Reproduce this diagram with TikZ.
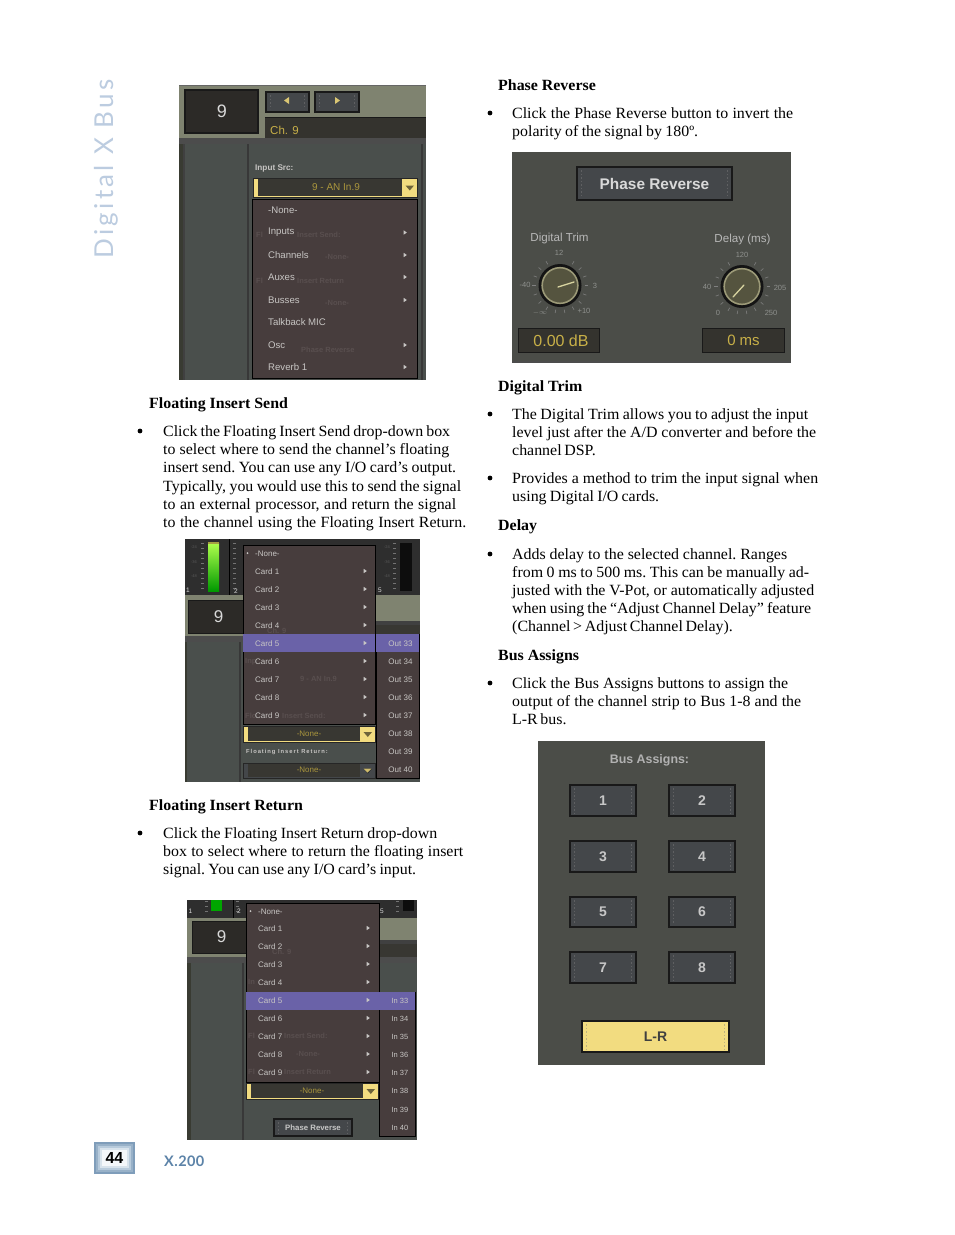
\documentclass[tikz,border=0pt]{standalone}
\usepackage{fontspec}
\setmainfont[FakeStretch=1.02]{Liberation Serif}
\newfontfamily\uif{Liberation Sans}
\newfontfamily\sidef[LetterSpace=12.5]{Lato}
\newfontfamily\modelf[LetterSpace=3]{Lato}
\usetikzlibrary{calc}
\definecolor{olive}{HTML}{7F8370}
\definecolor{dk}{HTML}{2C2A27}
\definecolor{pan}{HTML}{4A4F4C}
\definecolor{mnu}{HTML}{473D3D}
\definecolor{pur}{HTML}{6A62A8}
\definecolor{yel}{HTML}{F2DC80}
\definecolor{gry}{HTML}{4B4D48}
\definecolor{btnf}{HTML}{44474A}
\definecolor{mtxt}{HTML}{C8C6C4}
\definecolor{gho}{HTML}{594F4F}
\definecolor{sideb}{HTML}{BCCCE0}
\definecolor{xblue}{HTML}{5C83A8}
\definecolor{amber}{HTML}{C8B048}
\definecolor{knobf}{HTML}{55543F}
\definecolor{knobr}{HTML}{9C9A78}
\definecolor{knobp}{HTML}{D8D4A0}
\newcounter{nid}
\tikzset{
  x=1pt,y=-1pt,
  body/.style={anchor=base west,inner sep=0pt,font=\fontsize{15.6}{18}\selectfont,text=black},
  head/.style={anchor=base west,inner sep=0pt,font=\fontsize{15.6}{18}\bfseries\selectfont,text=black},
  ui/.style={inner sep=0pt,text=mtxt,font=\uif\fontsize{8.6}{9}\selectfont},
  uil/.style={ui,anchor=west},
  ghost/.style={inner sep=0pt,anchor=west,text=gho,font=\uif\fontsize{7.5}{9}\bfseries\selectfont},
  btnl/.style={inner sep=0pt,text=white!78!black,font=\uif\bfseries\fontsize{14}{15}\selectfont},
  item/.style={uil,yshift=-0.6pt,font=\uif\fontsize{8}{9}\selectfont},
  big/.style={uil,font=\uif\fontsize{9.6}{10}\selectfont},
}
% text line: x, baseline y, right end x, text
\newcommand\tl[4]{\stepcounter{nid}\node[body] (n\arabic{nid}) at (#1,#2) {\frenchspacing\hbox to \dimexpr #3pt-#1pt\relax{#4}};}
\newcommand\hd[3]{\stepcounter{nid}\node[head] (n\arabic{nid}) at (#1,#2) {#3};}
\newcommand\bu[2]{\fill[black] (#1,#2) circle (2.4);}
\newcommand\ut[3]{\stepcounter{nid}\node[big] (n\arabic{nid}) at (#1,#2) {#3};}
\newcommand\gtx[3]{\stepcounter{nid}\node[ghost] (n\arabic{nid}) at (#1,#2) {#3};}
\newcommand\arw[2]{\fill[mtxt] (#1-1.3,#2-2.2) -- (#1+1.8,#2) -- (#1-1.3,#2+2.2) -- cycle;}
% button: x1 y1 x2 y2 fill label-style label
\newcommand\btn[7]{%
  \fill[#5] (#1,#2) rectangle (#3,#4);
  \draw[black!90,line width=1.5] (#1,#2) rectangle (#3,#4);
  \draw[#5!55!gray,line width=.7,dash pattern=on 1.5pt off 2pt] (#1+4.5,#2+3) -- (#1+4.5,#4-3);
  \draw[#5!55!gray,line width=.7,dash pattern=on 1.5pt off 2pt] (#3-4.5,#2+3) -- (#3-4.5,#4-3);
  \stepcounter{nid}\node[btnl,#6] (n\arabic{nid}) at ({(#1+#3)/2},{(#2+#4)/2}) {#7};}
% dropdown: x1 y1 x2 y2 cap colour
\newcommand\drop[5]{%
  \fill[#5] (#1,#2) rectangle (#3,#4);
  \draw[black!85,line width=.8] (#1,#2) rectangle (#3,#4);
  \fill[dk!85!olive] (#1+5,#2+1.3) rectangle (#3-15.5,#4-1.3);
  \fill[#5!45!black] (#3-11.5,{(#2+#4)/2-2}) -- (#3-3,{(#2+#4)/2-2}) -- (#3-7.2,{(#2+#4)/2+3}) -- cycle;}
% meter ticks: x ytop ybottom
\newcommand\mtick[3]{\pgfmathtruncatemacro\ytwo{#2+5}\foreach \yy in {#2,\ytwo,...,#3} \draw[black!55,line width=.4] (#1,\yy) -- (#1+3,\yy);}
% knob: cx cy pointer
\newcommand\knob[3]{%
  \foreach \ang in {-60,-40,...,240} \draw[white!50!black,line width=.6] ($(#1,#2)+(\ang:24.5)$) -- ($(#1,#2)+(\ang:28)$);
  \fill[black!92] (#1,#2) circle (21.5);
  \fill[knobf] (#1,#2) circle (18.6);
  \draw[knobr,line width=1.5] (#1,#2) circle (17.8);
  \draw[knobp,line width=1.3,line cap=round] #3;}
\begin{document}
\begin{tikzpicture}
\path[use as bounding box,fill=white] (0,0) rectangle (954,1235);

% ---- side label and folio
\node[rotate=90,anchor=base west,inner sep=0pt,text=sideb,font=\sidef\fontsize{26}{27}\selectfont] (side) at (113.5,258.5) {Digital X Bus};
\foreach \ii/\cc in {0/7F9DBA,2/98B1C8,4/B8CBDC,6/D8E3EC,8/F4F7FA}{
  \definecolor{tmpc}{HTML}{\cc}
  \fill[tmpc] (94+\ii,1142+\ii) rectangle (135-\ii,1174-\ii);}
\node[inner sep=0pt,font=\uif\bfseries\fontsize{16}{17}\selectfont] (folio) at (114.5,1157.5) {44};
\node[anchor=base west,inner sep=0pt,text=xblue,font=\modelf\bfseries\fontsize{14.5}{15}\selectfont] (model) at (164,1166) {X.200};

% ---- left column text
\hd{149}{408}{Floating Insert Send}
\bu{140}{431}
\tl{163}{436.5}{450}{Click the Floating Insert Send drop-down box}
\tl{163}{454.5}{449}{to select where to send the channel’s floating}
\tl{163}{472.5}{456}{insert send. You can use any I/O card’s output.}
\tl{163}{491}{461}{Typically, you would use this to send the signal}
\tl{163}{509}{456}{to an external processor, and return the signal}
\tl{163}{527.5}{466}{to the channel using the Floating Insert Return.}
\hd{149}{810}{Floating Insert Return}
\bu{140}{833}
\tl{163}{838}{437}{Click the Floating Insert Return drop-down}
\tl{163}{856}{463}{box to select where to return the floating insert}
\tl{163}{874}{416}{signal. You can use any I/O card’s input.}

% ---- right column text
\hd{498}{90}{Phase Reverse}
\bu{490}{113}
\tl{512}{118}{793}{Click the Phase Reverse button to invert the}
\tl{512}{136}{698}{polarity of the signal by 180º.}
\hd{498}{391}{Digital Trim}
\bu{490}{414}
\tl{512}{419}{808}{The Digital Trim allows you to adjust the input}
\tl{512}{437}{816}{level just after the A/D converter and before the}
\tl{512}{455}{595}{channel DSP.}
\bu{490}{478}
\tl{512}{483}{818}{Provides a method to trim the input signal when}
\tl{512}{501}{659}{using Digital I/O cards.}
\hd{498}{530}{Delay}
\bu{490}{554}
\tl{512}{559}{787}{Adds delay to the selected channel. Ranges}
\tl{512}{577}{809}{from 0 ms to 500 ms. This can be manually ad-}
\tl{512}{595}{814}{justed with the V-Pot, or automatically adjusted}
\tl{512}{613}{811}{when using the “Adjust Channel Delay” feature}
\tl{512}{631}{732}{(Channel > Adjust Channel Delay).}
\hd{498}{660}{Bus Assigns}
\bu{490}{683}
\tl{512}{688}{788}{Click the Bus Assigns buttons to assign the}
\tl{512}{706}{801}{output of the channel strip to Bus 1-8 and the}
\tl{512}{724}{565}{L-R bus.}

% ---- screenshot 1
\fill[olive] (179,85) rectangle (426,143);
\draw[black!60,line width=1] (179,85.5) -- (426,85.5);
\fill[dk] (185,90) rectangle (258,133);
\draw[black!90,line width=1.2] (185,90) rectangle (258,133);
\node[ui,text=white!85!black,font=\uif\fontsize{18}{18}\selectfont] (a9) at (222,111) {9};
\btn{266}{92}{309}{112}{btnf}{}{}
\btn{315}{92}{359}{112}{btnf}{}{}
\fill[yel!90!black] (289,97) -- (289,104) -- (284,100.5) -- cycle;
\fill[yel!90!black] (335,97) -- (335,104) -- (340,100.5) -- cycle;
\fill[dk!90!olive] (265,117) rectangle (426,138);
\draw[black!90,line width=1] (265,117) -- (426,117);
\node[uil,text=amber,font=\uif\fontsize{11.5}{12}\selectfont] (ach) at (270,130) {Ch. 9};
\fill[black!70] (179,138) rectangle (426,144);
\fill[pan] (179,144) rectangle (426,380);
\fill[black!75] (179,144) rectangle (185,380);
\fill[olive!45!black] (179,144) rectangle (183,380);
\fill[black!78] (247,144) rectangle (249,380);
\fill[black!78] (421,144) rectangle (423,380);
\node[uil,text=mtxt,font=\uif\bfseries\fontsize{8.2}{9}\selectfont] (asrc) at (255,168) {Input Src:};
\drop{253}{178}{417}{197}{yel}
\node[ui,text=amber!85!black,font=\uif\fontsize{10}{10}\selectfont] (anin) at (336,187.5) {9 - AN In.9};
\fill[mnu] (252,199) rectangle (417,378);
\draw[black,line width=.8] (252,199) rectangle (417,378);
\gtx{256}{235}{Fl}
\gtx{297}{235}{Insert Send:}
\gtx{325}{257}{-None-}
\gtx{256}{281}{Fl}
\gtx{297}{281}{Insert Return}
\gtx{325}{303}{-None-}
\gtx{301}{349.5}{Phase Reverse}
\ut{268}{210}{-None-}
\ut{268}{232.5}{Inputs}\arw{405}{232.5}
\ut{268}{255}{Channels}\arw{405}{255}
\ut{268}{277}{Auxes}\arw{405}{277}
\ut{268}{300}{Busses}\arw{405}{300}
\ut{268}{322}{Talkback MIC}
\ut{268}{345}{Osc}\arw{405}{345}
\ut{268}{367}{Reverb 1}\arw{405}{367}

% ---- screenshot 2
\fill[pan] (185,539) rectangle (420,782);
\fill[black!82] (185,539) rectangle (420,595);
\fill[olive] (185,595) rectangle (420,642);
\mtick{201}{543}{591}
\shade[top color=green!45!yellow!70!white,bottom color=green!60!black] (208,543) rectangle (219,591);
\fill[yellow!60!black] (208,542) rectangle (219,543.5);
\mtick{233}{543}{591}
\draw[black,line width=.8] (229,539) -- (229,595);
\mtick{393}{543}{591}
\fill[black!95] (400,543) rectangle (412,591);
\foreach \nm/\xx/\yy/\lbl in {bs1/194/547/-24,bs2/194/562/-36,bs3/194/576/-48,bs4/387/547/-24,bs5/387/562/-36,bs6/387/576/-48}{
  \node[ui,text=white!35!black,font=\uif\fontsize{4}{4}\selectfont] (\nm) at (\xx,\yy) {\lbl};}
\node[ui,text=white!85!black,font=\uif\fontsize{6.5}{7}\selectfont] (b1) at (188,590) {1};
\node[ui,text=white!85!black,font=\uif\fontsize{6.5}{7}\selectfont] (b2) at (236,591) {2};
\node[ui,text=white!85!black,font=\uif\fontsize{6.5}{7}\selectfont] (b5) at (380,590) {5};
\fill[dk] (188,600) rectangle (245,633);
\draw[black!90,line width=1] (188,600) rectangle (245,633);
\node[ui,text=white!85!black,font=\uif\fontsize{17}{18}\selectfont] (b9) at (218.5,617) {9};
\fill[black!75] (376,621) rectangle (420,625);
\fill[dk!85!olive] (376,625) rectangle (420,634);
\fill[black!70] (185,636) rectangle (420,642);
\fill[olive!45!black] (185,642) rectangle (187,782);
\fill[black!78] (239,642) rectangle (241,782);
\fill[mnu] (243,545) rectangle (375,724);
\draw[black,line width=.8] (243,545) rectangle (375,724);
\fill[pur] (243,634) rectangle (375,652);
\gtx{267}{631}{Ch. 9}
\gtx{245}{661.5}{Inp}
\gtx{300}{679}{9 - AN In.9}
\gtx{245}{715.5}{Flo}
\gtx{282}{715.5}{Insert Send:}
\fill[mtxt] (247.5,553) circle (1);
\node[item] (bnone) at (255,553) {-None-};
\foreach \cc/\yy in {1/571,2/589,3/607,4/625,5/643,6/661,7/679,8/697,9/715}{
  \node[item] (bc\cc) at (255,\yy) {Card \cc};
  \arw{365}{\yy}}
\drop{243}{726}{375}{742}{yel}
\node[ui,text=amber!85!black,font=\uif\fontsize{8}{9}\selectfont] (bn1) at (309,733.5) {-None-};
\node[uil,font=\uif\bfseries\fontsize{5.8}{6}\selectfont,text=mtxt] (bfr) at (246,752) {F\,l\,o\,a\,t\,i\,n\,g\, I\,n\,s\,e\,r\,t\, R\,e\,t\,u\,r\,n\,:};
\drop{243}{763}{375}{778}{btnf}
\node[ui,text=amber!85!black,font=\uif\fontsize{8}{9}\selectfont] (bn2) at (309,770) {-None-};
\fill[yel!85!black] (363.5,768.5) -- (371.5,768.5) -- (367.5,772.5) -- cycle;
\fill[mnu] (376,634) rectangle (419,778);
\draw[black,line width=.8] (376,634) rectangle (419,778);
\fill[pur] (376,634) rectangle (419,652);
\foreach \cc/\yy in {33/643,34/661,35/679,36/697,37/715,38/733,39/751,40/769}{
  \node[ui,yshift=-0.6pt,font=\uif\fontsize{8}{9}\selectfont] (bo\cc) at (400.5,\yy) {Out \cc};}

% ---- screenshot 3
\fill[pan] (187,900) rectangle (417,1140);
\fill[black!82] (187,900) rectangle (417,918);
\fill[olive] (187,918) rectangle (417,963);
\mtick{205}{901}{915}
\fill[green!65!black] (211,900) rectangle (222,911);
\mtick{236}{901}{915}
\draw[black,line width=.8] (233,900) -- (233,918);
\mtick{396}{901}{915}
\fill[black!95] (403,900) rectangle (414,911);
\node[ui,text=white!85!black,font=\uif\fontsize{6.5}{7}\selectfont] (c1) at (190.5,911) {1};
\node[ui,text=white!85!black,font=\uif\fontsize{6.5}{7}\selectfont] (c2) at (239,911) {2};
\node[ui,text=white!85!black,font=\uif\fontsize{6.5}{7}\selectfont] (c5) at (382,911) {5};
\fill[dk] (192,921) rectangle (248,953);
\draw[black!90,line width=1] (192,921) rectangle (248,953);
\node[ui,text=white!85!black,font=\uif\fontsize{17}{18}\selectfont] (c9) at (221.5,937) {9};
\fill[black!75] (379,940) rectangle (417,944);
\fill[dk!85!olive] (379,944) rectangle (417,957);
\fill[black!70] (187,957) rectangle (417,963);
\fill[olive!45!black] (187,963) rectangle (191,1140);
\fill[black!78] (242,963) rectangle (244,1140);
\fill[mnu] (246,903) rectangle (379,1082);
\draw[black,line width=.8] (246,903) rectangle (379,1082);
\fill[pur] (246,992) rectangle (379,1010);
\gtx{272}{952}{Ch. 9}
\gtx{248}{982}{In}
\gtx{248}{1036}{Fl}
\gtx{284}{1036}{Insert Send:}
\gtx{296}{1054}{-None-}
\gtx{248}{1072}{Fl}
\gtx{284}{1072}{Insert Return}
\fill[mtxt] (250.5,911) circle (1);
\node[item] (cnone) at (258,911) {-None-};
\foreach \cc/\yy in {1/928,2/946,3/964,4/982,5/1000,6/1018,7/1036,8/1054,9/1072}{
  \node[item] (cc\cc) at (258,\yy) {Card \cc};
  \arw{368}{\yy}}
\drop{246}{1083}{378}{1099}{yel}
\node[ui,text=amber!85!black,font=\uif\fontsize{8}{9}\selectfont] (cn1) at (312,1091) {-None-};
\btn{274}{1119}{352}{1136}{btnf}{font=\uif\bfseries\fontsize{7.8}{8}\selectfont}{Phase Reverse}
\fill[mnu] (379,992) rectangle (415,1136);
\draw[black,line width=.8] (379,992) rectangle (415,1136);
\fill[pur] (379,992) rectangle (415,1010);
\foreach \cc/\yy in {33/1000,34/1018,35/1036,36/1054,37/1072,38/1090,39/1109,40/1127}{
  \node[ui,yshift=-0.6pt,font=\uif\fontsize{7.5}{9}\selectfont] (ci\cc) at (400,\yy) {In \cc};}

% ---- phase reverse / trim / delay panel
\fill[gry] (512,152) rectangle (791,363);
\fill[black!70] (512,361) rectangle (791,363);
\btn{577}{167}{732}{200}{btnf}{text=white!85!black,font=\uif\bfseries\fontsize{15.4}{16}\selectfont}{Phase Reverse}
\node[ui,text=white!72!black,font=\uif\fontsize{11.6}{12}\selectfont] (dt) at (559.5,238.5) {Digital Trim};
\node[ui,text=white!72!black,font=\uif\fontsize{11.6}{12}\selectfont] (dl) at (742.5,239) {Delay (ms)};
\knob{560}{285.5}{(558,287) -- (574,282)}
\knob{742}{286.5}{(733,297) -- (744,285)}
\foreach \nm/\xx/\yy/\lbl in {k1/559/253/12,k2/525/285/-40,k3/595/286/3,k4/584/311/+10,k5/540/313/$-\infty$,k6/742/255/120,k7/707/287/40,k8/780/288/205,k9/718/313/0,k10/771/313/250}{
  \node[ui,text=white!38!gry,font=\uif\fontsize{7.5}{8}\selectfont] (\nm) at (\xx,\yy) {\lbl};}
\fill[dk!90!olive] (518,328) rectangle (599,352);
\draw[black!90,line width=1] (518,328) rectangle (599,352);
\node[ui,text=amber,font=\uif\fontsize{16}{16}\selectfont] (dv1) at (561,340.5) {0.00 dB};
\fill[dk!90!olive] (702,328) rectangle (784,352);
\draw[black!90,line width=1] (702,328) rectangle (784,352);
\node[ui,text=amber,font=\uif\fontsize{15}{15}\selectfont] (dv2) at (743.5,340.5) {0 ms};

% ---- bus assigns panel
\fill[gry] (538,741) rectangle (765,1065);
\node[ui,text=white!70!black,font=\uif\bfseries\fontsize{12.4}{13}\selectfont] (ba) at (649.5,760) {Bus Assigns:};
\btn{570}{785}{636}{816}{btnf}{}{1}
\btn{669}{785}{735}{816}{btnf}{}{2}
\btn{570}{841}{636}{872}{btnf}{}{3}
\btn{669}{841}{735}{872}{btnf}{}{4}
\btn{570}{897}{636}{927}{btnf}{}{5}
\btn{669}{897}{735}{927}{btnf}{}{6}
\btn{570}{952}{636}{983}{btnf}{}{7}
\btn{669}{952}{735}{983}{btnf}{}{8}
\btn{582}{1021}{729}{1052}{yel}{text=black!75}{L-R}
\end{tikzpicture}
\end{document}
